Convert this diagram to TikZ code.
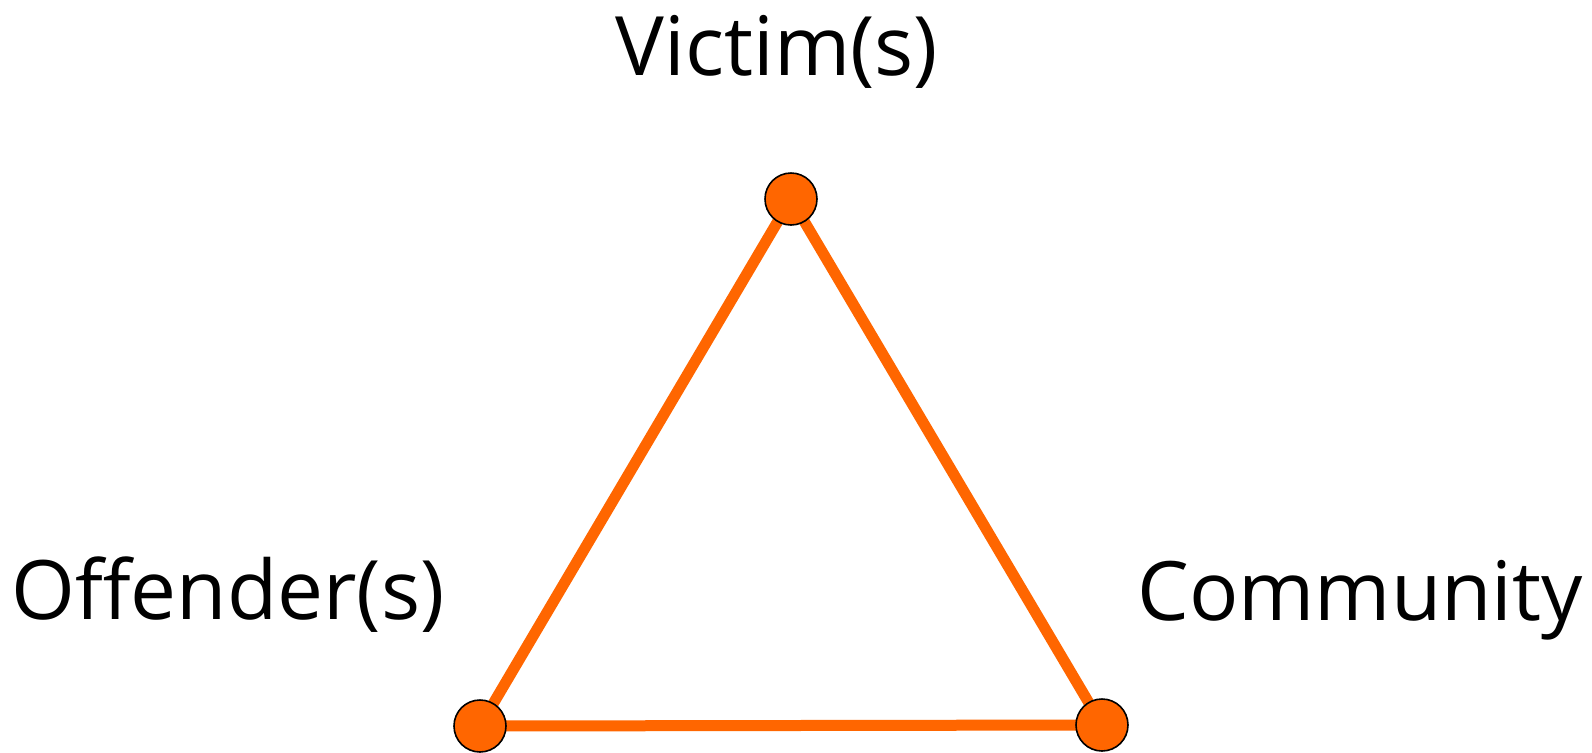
\documentclass[tikz,border=0pt]{standalone}
\usepackage{fontspec}
\setmainfont{Open Sans}
\usetikzlibrary{backgrounds}
\definecolor{rjorange}{HTML}{FF6600}
\tikzset{
  dot/.style={circle, fill=rjorange, draw=black, line width=0.8pt, minimum size=26pt, inner sep=0pt},
  edge/.style={draw=rjorange, line width=5.5pt},
  lbl/.style={anchor=base, inner sep=0pt, font=\fontsize{41}{48}\selectfont}
}
\begin{document}
\begin{tikzpicture}[x=0.5pt,y=-0.5pt]
\useasboundingbox (0,0) rectangle (1592,752);
\node[dot] (v) at (791,199) {};
\node[dot] (o) at (480,726) {};
\node[dot] (c) at (1102,725) {};
\begin{pgfonlayer}{background}
\draw[edge] (v.center) -- (o.center) -- (c.center) -- (v.center);
\end{pgfonlayer}
\node[lbl] (vl) at (777,75) {Victim(s)};
\node[lbl] (ol) at (228,619) {Offender(s)};
\node[lbl] (cl) at (1360,620) {Community};
\end{tikzpicture}
\end{document}
